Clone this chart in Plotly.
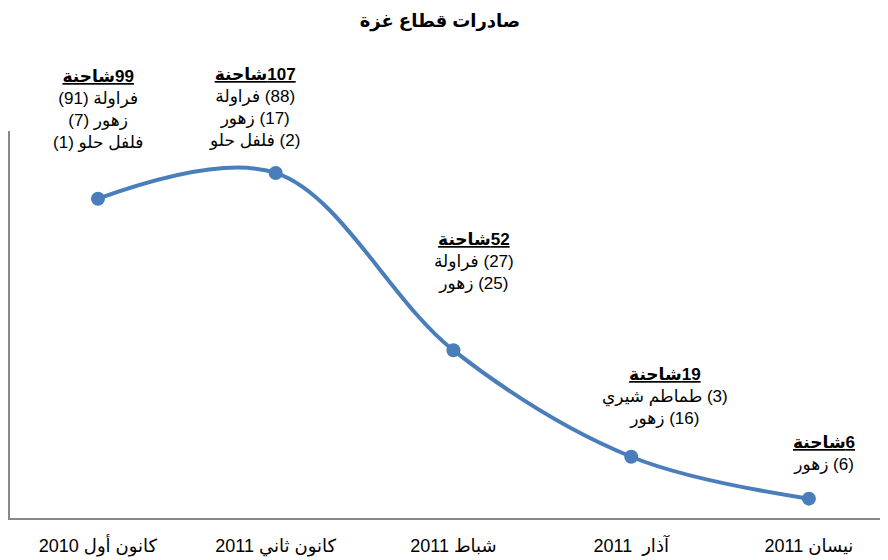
import plotly.graph_objects as go

# ---- data ----
months = ["كانون أول 2010", "كانون ثاني 2011", "شباط 2011", "آذار  2011", "نيسان 2011"]
trucks = [99, 107, 52, 19, 6]
truck_word = "شاحنة"
details = [
    ["فراولة (91)", "زهور (7)", "فلفل حلو (1)"],
    ["(88) فراولة", "(17) زهور", "(2) فلفل حلو"],
    ["(27) فراولة", "(25) زهور"],
    ["(3) طماطم شيري", "(16) زهور"],
    ["(6) زهور"],
]
title_text = "صادرات قطاع غزة"

# label offsets (pixels) relative to each point
label_dx = [0, -21, 21, 34, 15]
label_dy = [45, 21, 55, 27, 23]


def rtl(s):
    # right-to-left embedding so Arabic lines read as in the original
    return "\u202b" + s + "\u202c"


FONT = "Arial, 'Liberation Sans', 'DejaVu Sans', sans-serif"
BLUE = "#4A7EBB"
GREY = "#888888"

fig = go.Figure()
fig.add_trace(go.Scatter(
    x=list(range(len(months))), y=trucks,
    mode="lines+markers",
    line=dict(color=BLUE, width=4, shape="spline", smoothing=1.0),
    marker=dict(color=BLUE, size=14),
    hoverinfo="skip",
    showlegend=False,
))

for i, (n, det) in enumerate(zip(trucks, details)):
    lines = ["<b><u>" + rtl(str(n) + truck_word) + "</u></b>"] + [rtl(d) for d in det]
    fig.add_annotation(
        x=i, y=n, xref="x", yref="y", text="<br>".join(lines), showarrow=False,
        xanchor="center", yanchor="bottom", align="center",
        xshift=label_dx[i], yshift=label_dy[i],
        font=dict(family=FONT, size=17, color="black"),
    )

fig.update_layout(
    width=880, height=552,
    margin=dict(l=2, r=0, t=123, b=42, autoexpand=False),
    paper_bgcolor="white", plot_bgcolor="white",
    title=dict(text="<b>" + rtl(title_text) + "</b>", x=432 / 880, xanchor="center",
               y=1 - 13 / 552, yanchor="middle",
               font=dict(family=FONT, size=18, color="black")),
    font=dict(family=FONT, color="black"),
    xaxis=dict(
        range=[-0.495, 4.445], tickmode="array",
        tickvals=list(range(len(months))), ticktext=[rtl(m) for m in months],
        showgrid=False, zeroline=False, showline=True,
        linecolor=GREY, linewidth=2, ticks="", automargin=False,
        tickfont=dict(family=FONT, size=18, color="black"),
        ticklabelstandoff=10,
    ),
    yaxis=dict(
        range=[0, 120], showgrid=False, zeroline=False, automargin=False,
        showline=True, linecolor=GREY, linewidth=2,
        showticklabels=False, ticks="",
    ),
)

fig.write_html("out.html")
